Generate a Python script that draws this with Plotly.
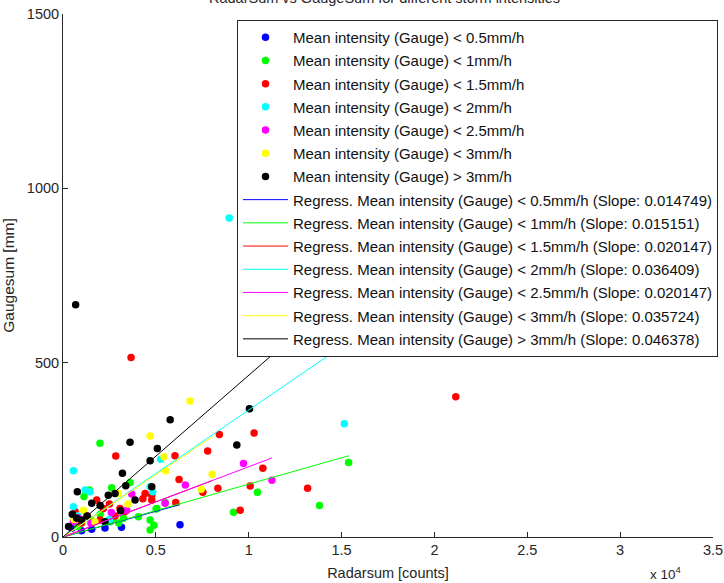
import plotly.graph_objects as go

# Storm-intensity classes: label, colour
classes = ["&lt; 0.5mm/h", "&lt; 1mm/h", "&lt; 1.5mm/h", "&lt; 2mm/h",
           "&lt; 2.5mm/h", "&lt; 3mm/h", "&gt; 3mm/h"]
colors = ["#0000ff", "#00ff00", "#ff0000", "#00ffff", "#ff00ff", "#ffff00", "#000000"]

# Radarsum [counts] / Gaugesum [mm] per class
blue_x = [3150, 6300, 1545, 2260, 470, 1000]
blue_y = [28, 35, 22, 26, 25, 18]

green_x = [1990, 3610, 2620, 1130, 2530, 2710, 4060, 4690, 4900, 4690, 5010, 5500,
           9180, 10470, 13810, 15380, 3250, 1500, 2000, 3000, 800, 5050, 1420]
green_y = [269, 156, 141, 116, 44, 54, 58, 49, 34, 20, 80, 99,
           71, 128, 90, 214, 54, 50, 65, 40, 30, 82, 135]

red_x = [3665, 21150, 2840, 6030, 7790, 8420, 10290, 10760, 10080, 13170, 9540, 6250,
         8340, 7530, 4420, 4780, 4780, 6070, 1815, 2170, 3070, 3340, 650, 1990,
         1300, 2500, 1000, 2800, 4300]
red_y = [515, 402, 232, 233, 247, 294, 298, 197, 146, 140, 77, 165,
         140, 128, 125, 120, 106, 99, 106, 82, 82, 73, 73, 49,
         60, 95, 40, 60, 110]

cyan_x = [8950, 15150, 560, 1190, 1455, 4690, 4830, 5260, 560, 10040, 800, 2500]
cyan_y = [915, 325, 190, 135, 130, 144, 130, 223, 87, 368, 60, 50]

magenta_x = [9720, 11250, 6590, 5500, 3700, 3430, 560, 1500, 2600, 800]
magenta_y = [211, 163, 149, 97, 123, 77, 44, 40, 70, 55]

yellow_x = [6840, 4690, 5440, 5530, 8030, 7440, 2980, 1100, 1720, 3500, 600]
yellow_y = [390, 290, 230, 190, 180, 137, 125, 77, 44, 95, 50]

black_x = [680, 3610, 5770, 5080, 4690, 3200, 10040, 9360, 770, 2440, 2800, 3880,
           3380, 4780, 1545, 740, 1010, 2260, 500, 300, 1300, 2000, 3100]
black_y = [666, 272, 336, 254, 219, 183, 368, 264, 130, 120, 125, 106,
           147, 144, 97, 54, 49, 44, 65, 30, 60, 90, 75]

points_x = [blue_x, green_x, red_x, cyan_x, magenta_x, yellow_x, black_x]
points_y = [blue_y, green_y, red_y, cyan_y, magenta_y, yellow_y, black_y]

# Regression through the origin: slope and x-extent of each line
slopes = [0.014749, 0.015151, 0.020147, 0.036409, 0.020147, 0.035724, 0.046378]
line_xmax = [6300, 15380, 8000, 15150, 11250, 8050, 12500]

x_ticks = [0, 5000, 10000, 15000, 20000, 25000, 30000, 35000]
x_ticktext = ["0", "0.5", "1", "1.5", "2", "2.5", "3", "3.5"]
y_ticks = [0, 500, 1000, 1500]

FONT = "Liberation Sans, Arial, sans-serif"
INK = "#262626"

fig = go.Figure()

for i, cls in enumerate(classes):
    fig.add_trace(go.Scatter(
        x=points_x[i], y=points_y[i], mode="markers",
        marker=dict(color=colors[i], size=7.5, line=dict(width=0)),
        name=f"Mean intensity (Gauge) {cls}",
        legendgroup=f"p{i}",
    ))

for i, cls in enumerate(classes):
    xs = [0, line_xmax[i]]
    ys = [slopes[i] * v for v in xs]
    fig.add_trace(go.Scatter(
        x=xs, y=ys, mode="lines",
        line=dict(color=colors[i], width=1),
        name=f"Regress. Mean intensity (Gauge) {cls} (Slope: {slopes[i]:.6f})",
        legendgroup=f"l{i}",
    ))

fig.update_layout(
    width=724, height=583,
    margin=dict(l=63, r=11, t=14, b=46, autoexpand=False),
    paper_bgcolor="white", plot_bgcolor="white",
    font=dict(family=FONT, size=14, color=INK),
    showlegend=True,
    legend=dict(
        x=(237 - 63) / 650, y=(537 - 20) / 523, xanchor="left", yanchor="top",
        bgcolor="white", bordercolor=INK, borderwidth=1,
        font=dict(family=FONT, size=15, color="#111"),
        traceorder="grouped", tracegroupgap=0.7, itemwidth=45,
    ),
    xaxis=dict(
        range=[0, 35000], tickvals=x_ticks, ticktext=x_ticktext,
        showgrid=False, zeroline=False, showline=True, linecolor=INK, linewidth=1,
        ticks="inside", ticklen=5, tickcolor=INK, automargin=False,
        tickfont=dict(size=14.5, color=INK),
        title=dict(text="Radarsum [counts]", font=dict(size=14.5, color=INK), standoff=10),
    ),
    yaxis=dict(
        range=[0, 1500], tickvals=y_ticks,
        showgrid=False, zeroline=False, showline=True, linecolor=INK, linewidth=1,
        ticks="inside", ticklen=5, tickcolor=INK, automargin=False,
        tickfont=dict(size=14.5, color=INK),
        title=dict(text="Gaugesum [mm]", font=dict(size=15.5, color=INK), standoff=11),
    ),
    annotations=[
        dict(text="x 10<sup>4</sup>", xref="paper", yref="paper",
             x=(648 - 63) / 650, y=-(562 - 537) / 523, xanchor="left", yanchor="top",
             showarrow=False, font=dict(size=13.5, color=INK)),
        dict(text="RadarSum vs GaugeSum for different storm intensities",
             xref="paper", yref="paper", x=(384 - 63) / 650, y=(537 - 8) / 523,
             xanchor="center", yanchor="bottom", showarrow=False,
             font=dict(size=14.5, color=INK)),
    ],
)

fig.write_html("out.html")
